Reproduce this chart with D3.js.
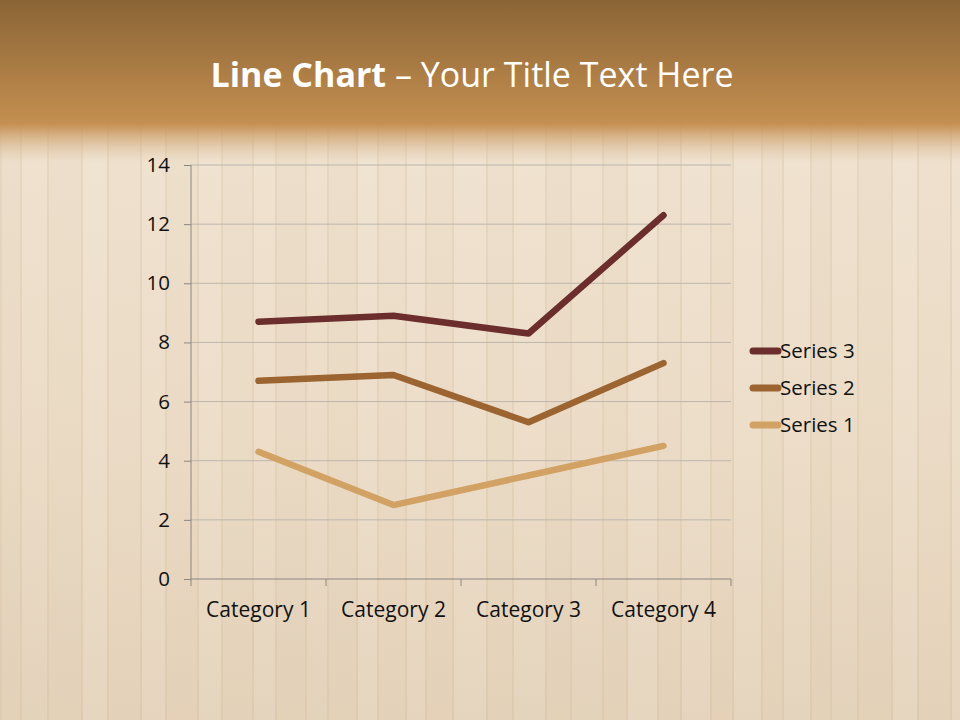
<!DOCTYPE html>
<html><head><meta charset="utf-8">
<script src="https://cdn.jsdelivr.net/npm/d3@7"></script>
<style>html,body{margin:0;padding:0;overflow:hidden;background:#eadbc6}</style>
</head><body><svg id="c" width="960" height="720"></svg>
<script>
const categories = ["Category 1","Category 2","Category 3","Category 4"];
const series1 = [4.3, 2.5, 3.5, 4.5];
const series2 = [2.4, 4.4, 1.8, 2.8];
const series3 = [2, 2, 3, 5];
const seriesNames = ["Series 1","Series 2","Series 3"];
const seriesColors = ["#d2a264","#9b6430","#6b2e2c"];
const yTicks = [0,2,4,6,8,10,12,14];

const svg = d3.select("#c");
const W = 960, H = 720;
const FONT = "Open Sans, Liberation Sans, sans-serif";
const defs = svg.append("defs");

// background wood
const bg = defs.append("linearGradient").attr("id","bg").attr("x1",0).attr("x2",0).attr("y1",0).attr("y2",1);
[[0,"#f0e4d2"],[0.6,"#ecdcc7"],[1,"#e4d2ba"]].forEach(s=>bg.append("stop").attr("offset",s[0]).attr("stop-color",s[1]));
svg.append("rect").attr("width",W).attr("height",H).attr("fill","url(#bg)");
// vertical stripes (decorative)
const stripeG = svg.append("g").attr("opacity",0.5);
const pat = [0.10,0.03,0.07,0.12,0.02,0.09,0.05,0.11,0.04,0.08];
for (let i=0, x=0; x<W; i++) {
  const w = 20 + (i*7)%15;
  stripeG.append("rect").attr("x",x).attr("y",0).attr("width",2).attr("height",H).attr("fill","#cdb391").attr("opacity",0.45);
  stripeG.append("rect").attr("x",x+2).attr("y",0).attr("width",w-2).attr("height",H).attr("fill",i%2?"#f8efe3":"#e0cbb0").attr("opacity",pat[i%pat.length]*2.2);
  x += w;
}
// top band
const tg = defs.append("linearGradient").attr("id","tg").attr("x1",0).attr("x2",0).attr("y1",0).attr("y2",1);
[[0,"#8a6436",1],[0.76,"#c48f50",1],[0.8,"#c8955a",0.85],[1,"#dcbb94",0]].forEach(s=>tg.append("stop").attr("offset",s[0]).attr("stop-color",s[1]).attr("stop-opacity",s[2]));
svg.append("rect").attr("width",W).attr("height",162).attr("fill","url(#tg)");

// title
const title = svg.append("text").attr("x",472).attr("y",87).attr("text-anchor","middle")
  .attr("font-family",FONT).attr("font-size",34).attr("fill","#ffffff");
title.append("tspan").attr("font-weight","bold").text("Line Chart");
title.append("tspan").text(" \u2013 Your Title Text Here");

// chart
const x0 = 191, x1 = 731, yTop = 165, yBot = 579;
const x = d3.scaleBand().domain(categories).range([x0,x1]);
const y = d3.scaleLinear().domain([0,14]).range([yBot,yTop]);

const grid = svg.append("g");
grid.selectAll("line").data(yTicks.filter(t=>t>0)).join("line")
  .attr("x1",x0).attr("x2",x1).attr("y1",d=>y(d)).attr("y2",d=>y(d))
  .attr("stroke","#bdb6ad").attr("stroke-width",1);

const yAxis = svg.append("g").attr("transform",`translate(${x0},0)`)
  .call(d3.axisLeft(y).tickValues(yTicks).tickSize(7).tickPadding(14).tickFormat(d3.format("d")));
const xAxis = svg.append("g").attr("transform",`translate(0,${yBot})`)
  .call(d3.axisBottom(x).tickSize(0).tickPadding(23));
// category boundary ticks
const bounds = categories.map(c=>x(c)).concat([x1]);
svg.append("g").selectAll("line").data(bounds).join("line")
  .attr("x1",d=>d).attr("x2",d=>d).attr("y1",yBot).attr("y2",yBot+7).attr("stroke","#8c8680");
[yAxis,xAxis].forEach(a=>{
  a.selectAll(".domain").attr("stroke","#8c8680");
  a.selectAll(".tick line").attr("stroke","#8c8680");
  a.selectAll("text").attr("font-family",FONT).attr("font-size",21).attr("fill","#111");
});
yAxis.selectAll("text").attr("font-size",20.5);
xAxis.select(".domain").attr("d",`M${x0},0H${x1}`);
yAxis.select(".domain").attr("d",`M0,${yBot}V${yTop}`);

// stacked
const stack = [];
let acc = [0,0,0,0];
[series1,series2,series3].forEach((s,i)=>{
  acc = acc.map((a,j)=>a+s[j]);
  stack.push(acc.slice());
});
const line = d3.line().x((d,i)=>x(categories[i])+x.bandwidth()/2).y(d=>y(d));
svg.append("g").selectAll("path").data(stack).join("path")
  .attr("d",line).attr("fill","none").attr("stroke",(d,i)=>seriesColors[i])
  .attr("stroke-width",6.5).attr("stroke-linecap","round").attr("stroke-linejoin","round");

// legend
const leg = svg.append("g");
const order = [2,1,0];
order.forEach((si,k)=>{
  const ly = 351 + k*37;
  leg.append("line").attr("x1",753).attr("x2",778).attr("y1",ly).attr("y2",ly)
    .attr("stroke",seriesColors[si]).attr("stroke-width",7).attr("stroke-linecap","round");
  leg.append("text").attr("x",780).attr("y",ly+7).attr("font-family",FONT)
    .attr("font-size",20.5).attr("fill","#111").text(seriesNames[si]);
});
</script></body></html>
